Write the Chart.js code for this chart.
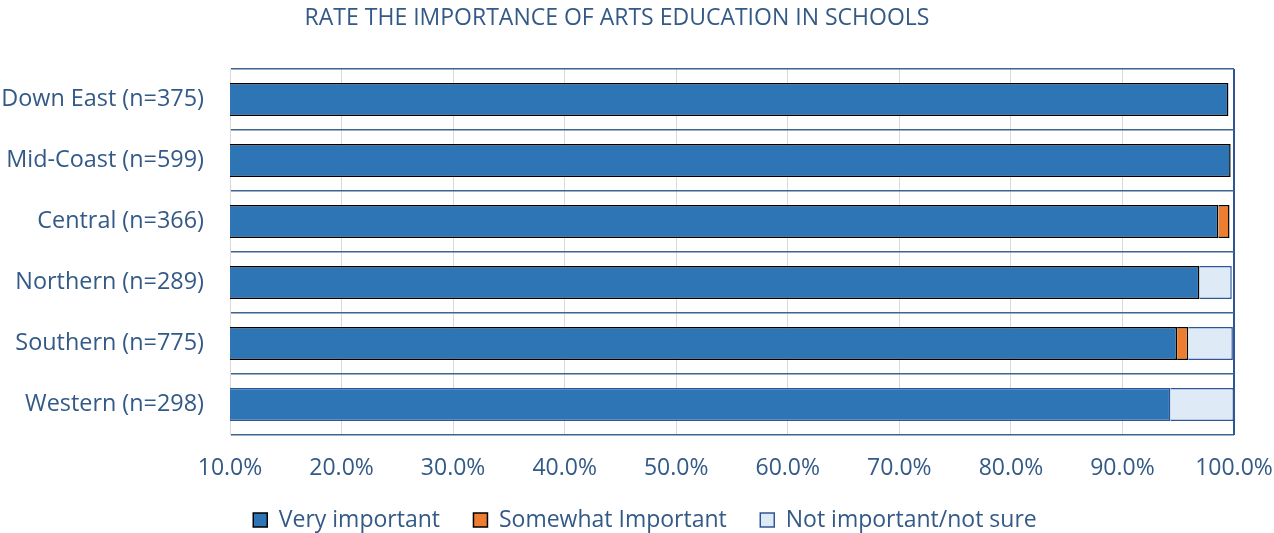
<!DOCTYPE html>
<html>
<head>
<meta charset="utf-8">
<script src="https://cdn.jsdelivr.net/npm/chart.js@4"></script>
<style>
  html, body { margin: 0; padding: 0; background: #fff; }
  #wrap { width: 1274px; height: 533px; }
</style>
</head>
<body>
<div id="wrap"><canvas id="arts-chart"></canvas></div>
<script>
// data
const regions = ['Down East (n=375)', 'Mid-Coast (n=599)', 'Central (n=366)', 'Northern (n=289)', 'Southern (n=775)', 'Western (n=298)'];
const veryImportant = [99.5, 99.7, 98.6, 96.9, 94.9, 94.3];
const somewhatImportant = [0, 0, 1.0, 0, 1.0, 0];
const notImportant = [0, 0, 0, 2.9, 4.0, 5.7];
const xTicks = [10, 20, 30, 40, 50, 60, 70, 80, 90, 100];

const TEXT = '#335a87';
const FONT = 'Open Sans';

// legend sits a little right of the title in the original
const legendShift = {
  id: 'legendShift',
  afterLayout: function(chart) {
    if (!chart.legend) return;
    chart.legend.left += 28;
    chart.legend.right += 28;
  }
};

(function() {
  const canvasEl = document.getElementById('arts-chart');
  if (!canvasEl || typeof Chart === 'undefined') return;

  new Chart(canvasEl, {
    type: 'bar',
    data: {
      labels: regions,
      datasets: [
        { label: 'Very important', data: veryImportant, backgroundColor: '#2e75b6',
          borderColor: ['#000', '#000', '#000', '#000', '#000', '#2f5597'], borderWidth: 1.5 },
        { label: 'Somewhat Important', data: somewhatImportant, backgroundColor: '#ed7d31',
          borderColor: '#000', borderWidth: 1.5 },
        { label: 'Not important/not sure', data: notImportant, backgroundColor: '#deebf7',
          borderColor: '#2f5597', borderWidth: 1.5 }
      ]
    },
    plugins: [legendShift],
    options: {
      indexAxis: 'y',
      responsive: true,
      maintainAspectRatio: false,
      animation: false,
      datasets: { bar: { categoryPercentage: 1, barPercentage: 0.54 } },
      layout: { padding: { left: 0, right: 40, top: 0, bottom: -8.5 } },
      plugins: {
        title: {
          display: true,
          text: 'RATE THE IMPORTANCE OF ARTS EDUCATION IN SCHOOLS',
          color: TEXT,
          font: { family: FONT, size: 23, weight: 'normal' },
          padding: { top: 5, bottom: 36.4 }
        },
        legend: {
          position: 'bottom',
          labels: {
            color: TEXT,
            font: { family: FONT, size: 23 },
            boxWidth: 14,
            boxHeight: 14,
            padding: 27.5,
            generateLabels: function(chart) {
              const items = Chart.defaults.plugins.legend.labels.generateLabels(chart);
              items.forEach(function(it, i) {
                if (i < items.length - 1) it.text = it.text + ' ';
                it.lineWidth = 1.5;
              });
              return items;
            }
          }
        },
        tooltip: { enabled: false }
      },
      scales: {
        x: {
          stacked: true,
          min: 10,
          max: 100,
          afterBuildTicks: function(scale) {
            scale.ticks = xTicks.map(function(v) { return { value: v }; });
          },
          afterFit: function(scale) {
            scale.height = 46;
            scale.paddingLeft = 0;
            scale.paddingRight = 0;
          },
          ticks: {
            color: TEXT,
            font: { family: FONT, size: 23 },
            padding: 20,
            callback: function(v) { return Number(v).toFixed(1) + '%'; }
          },
          grid: {
            drawTicks: false,
            color: function(ctx) { return ctx.tick && ctx.tick.value === 100 ? '#2f5597' : '#d9d9d9'; },
            lineWidth: function(ctx) { return ctx.tick && ctx.tick.value === 100 ? 2 : 1; }
          },
          border: { display: false }
        },
        y: {
          stacked: true,
          afterFit: function(scale) { scale.width = 230; },
          ticks: {
            color: TEXT,
            font: { family: FONT, size: 23.4 },
            padding: 26
          },
          grid: {
            offset: true,
            drawTicks: false,
            color: '#3b6494',
            lineWidth: 1.5
          },
          border: { display: true, color: '#d9d9d9', width: 1 }
        }
      }
    }
  });
})();
</script>
</body>
</html>
